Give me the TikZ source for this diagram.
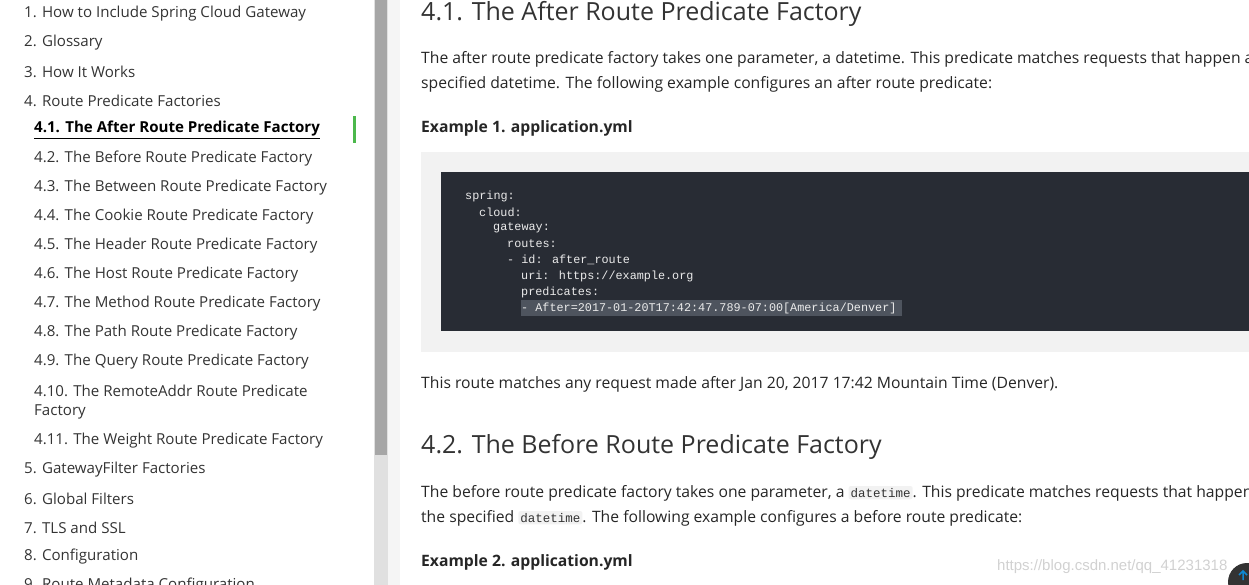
\documentclass[tikz,border=0pt]{standalone}
\usepackage{fontspec}
\setmainfont{Open Sans}
\newfontfamily\codef{Liberation Mono}
\newfontfamily\wmf{Liberation Sans}
\definecolor{hl}{RGB}{78,84,94}
\definecolor{codebg}{RGB}{40,44,52}
\begin{document}
\begin{tikzpicture}[x=1pt,y=-1pt,
  toc/.style={anchor=west,inner sep=0,font=\fontsize{15.1}{17}\selectfont,text=black!80},
  body/.style={anchor=west,inner sep=0,font=\fontsize{15.7}{18}\selectfont,text=black!85},
  head/.style={anchor=west,inner sep=0,font=\fontsize{25}{29}\selectfont,text=black!80},
  code/.style={anchor=west,inner sep=0,font=\codef\fontsize{11.8}{14}\selectfont,text=white!92!black},
  icode/.style={anchor=base,inner sep=2pt,fill=black!5,rounded corners=2pt,font=\codef\fontsize{12.5}{14}\selectfont,text=black!80}]
\useasboundingbox (0,0) rectangle (1249,585);
\clip (0,0) rectangle (1249,585);
% sidebar
\fill[black!12] (374,0) rectangle (388,585);
\fill[black!35] (375,0) rectangle (387,455);
\fill[black!4] (388,0) rectangle (400,585);
\fill[green!60!black!70] (353,116) rectangle (356,143);
\node[toc] (t1) at (24,14) {1. How to Include Spring Cloud Gateway};
\node[toc] (t2) at (24,43) {2. Glossary};
\node[toc] (t3) at (24,72) {3. How It Works};
\node[toc] (t4) at (24,101) {4. Route Predicate Factories};
\node[toc,font=\fontsize{15.1}{17}\selectfont\bfseries,text=black] (t41) at (34,130) {\underline{4.1. The After Route Predicate Factory}};
\node[toc] (t42) at (34,159) {4.2. The Before Route Predicate Factory};
\node[toc] (t43) at (34,188) {4.3. The Between Route Predicate Factory};
\node[toc] (t44) at (34,217) {4.4. The Cookie Route Predicate Factory};
\node[toc] (t45) at (34,246) {4.5. The Header Route Predicate Factory};
\node[toc] (t46) at (34,275) {4.6. The Host Route Predicate Factory};
\node[toc] (t47) at (34,304) {4.7. The Method Route Predicate Factory};
\node[toc] (t48) at (34,333) {4.8. The Path Route Predicate Factory};
\node[toc] (t49) at (34,362) {4.9. The Query Route Predicate Factory};
\node[toc] (t410a) at (34,391) {4.10. The RemoteAddr Route Predicate};
\node[toc] (t410b) at (34,412) {Factory};
\node[toc] (t411) at (34,441) {4.11. The Weight Route Predicate Factory};
\node[toc] (t5) at (24,470) {5. GatewayFilter Factories};
\node[toc] (t6) at (24,499) {6. Global Filters};
\node[toc] (t7) at (24,528) {7. TLS and SSL};
\node[toc] (t8) at (24,557) {8. Configuration};
\node[toc] (t9) at (24,586) {9. Route Metadata Configuration};
% main
\node[head] (h1) at (421,14) {4.1. The After Route Predicate Factory};
\node[body] (p1) at (421,59) {The after route predicate factory takes one parameter, a datetime. This predicate matches requests that happen after the};
\node[body] (p2) at (421,84) {specified datetime. The following example configures an after route predicate:};
\node[body,font=\fontsize{15.7}{18}\selectfont\bfseries] (ex1) at (421,128) {Example 1. application.yml};
\fill[black!5] (421,152) rectangle (1260,352);
\fill[codebg] (441,172) rectangle (1260,331);
\fill[hl] (521,300) rectangle (902,316);
\node[code] (c1) at (465,196) {spring:};
\node[code] (c2) at (479,212) {cloud:};
\node[code] (c3) at (493,228) {gateway:};
\node[code] (c4) at (507,244) {routes:};
\node[code] (c5) at (507,260) {- id: after\_route};
\node[code] (c6) at (521,276) {uri: https://example.org};
\node[code] (c7) at (521,292) {predicates:};
\node[code] (c8) at (521,308) {- After=2017-01-20T17:42:47.789-07:00[America/Denver]};
\node[body] (p3) at (421,384) {This route matches any request made after Jan 20, 2017 17:42 Mountain Time (Denver).};
\node[head] (h2) at (421,447) {4.2. The Before Route Predicate Factory};
\node[body] (p4) at (421,493) {The before route predicate factory takes one parameter, a \tikz[baseline]\node[icode]{datetime};. This predicate matches requests that happen before};
\node[body] (p5) at (421,518) {the specified \tikz[baseline]\node[icode]{datetime};. The following example configures a before route predicate:};
\node[body,font=\fontsize{15.7}{18}\selectfont\bfseries] (ex2) at (421,562) {Example 2. application.yml};
\node[anchor=west,inner sep=0,font=\wmf\fontsize{15}{17}\selectfont,text=black!18] (wm) at (997,567) {https://blog.csdn.net/qq\_41231318};
\fill[black!80] (1247,582) circle (19);
\draw[cyan!70!blue,line width=1.5pt] (1243,580) -- (1243,572) (1239,575) -- (1243,571) -- (1247,575);
\end{tikzpicture}
\end{document}
